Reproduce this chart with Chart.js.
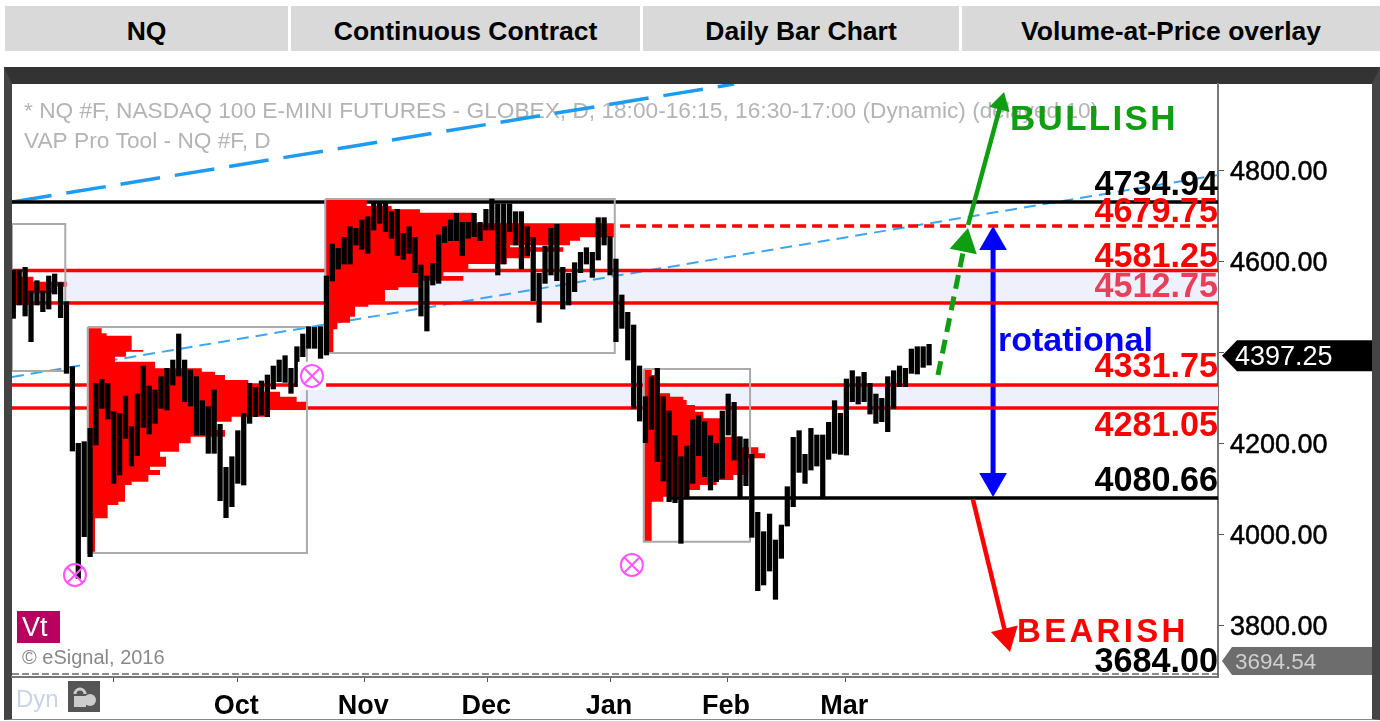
<!DOCTYPE html>
<html><head><meta charset="utf-8">
<script src="https://cdn.jsdelivr.net/npm/chart.js@4/dist/chart.umd.min.js"></script>
<style>
html,body{margin:0;padding:0;background:#fff;width:1380px;height:721px;overflow:hidden}
.cell{position:absolute;top:6px;height:45px;box-sizing:border-box;padding-top:5px;background:#d9d9d9;color:#000;font:bold 26.5px "Liberation Sans",Arial,sans-serif;display:flex;align-items:center;justify-content:center}
#frame{position:absolute;left:4px;top:67px;width:1376px;height:653px;border-top:17px solid #333;border-left:8px solid #444;border-right:8px solid #444;border-bottom:1px solid #888;box-sizing:border-box}
canvas{position:absolute;left:0;top:0}
</style></head><body>
<div class="cell" style="left:5px;width:283px">NQ</div>
<div class="cell" style="left:291px;width:349px">Continuous Contract</div>
<div class="cell" style="left:643px;width:316px">Daily Bar Chart</div>
<div class="cell" style="left:962px;width:418px">Volume-at-Price overlay</div>
<div id="frame"></div>
<canvas id="c" width="1380" height="721"></canvas>
<script>
const barHighs=[4582.4,4582.4,4588.2,4536.2,4558.9,4536.2,4569.2,4573.6,4554.5,4512.7,4369.9,4201.4,4205,4234.3,4333.2,4342,4333.2,4271,4267.3,4305.4,4238,4309.8,4371.3,4327.4,4318.6,4347.9,4366.2,4384.5,4441.7,4384.5,4362.5,4347.9,4295.1,4281.9,4318.6,4243.1,4148.6,4172,4229.2,4267.3,4333.2,4324.4,4338.4,4351.6,4371.3,4384.5,4394,4366.2,4413.8,4441.7,4457.8,4456.3,4457.8,4569.2,
4639.5,4630,4654.2,4677.6,4673.9,4692.3,4699.6,4728.9,4728.9,4728.9,4710.6,4715.7,4663,4677.6,4654.2,4593.3,4569.2,4597,4659.3,4677.6,4692.3,4706.9,4687.1,4687.1,4706.9,4687.1,4715.7,4738.4,4727.4,4727.4,4727.4,4710.6,4710.6,4677.6,4654.2,4575,4635.1,4673.9,4682.7,4588.2,4575,4598.5,4621.2,4631.4,4621.2,4697.4,4697.4,4655.6,4606.5,4527.4,4489.3,4461.5,
4371.4,4303.9,4347.9,4366.2,4303.9,4272.4,4218.2,4172,4195.5,4252.7,4262.2,4249,4218.2,4201.4,4272.4,4309.8,4291.5,4216,4210.9,4177.2,4049.7,4007.2,4046,3988.9,4021.8,4106.1,4214.5,4229.2,4177.2,4234.3,4219.7,4219.7,4247.5,4295.2,4267.3,4342.8,4361.1,4347.9,4357.4,4333.2,4309.8,4300.3,4347.9,4361.1,4371.4,4366.2,4408.7,4413.8,4413.8,4419];
const barLows=[4476.1,4505.4,4481.2,4424.8,4505.4,4490.8,4496.6,4529.6,4477.6,4355.2,4184.5,3904.6,3996.2,3952.2,4197.7,4278.3,4254.8,4113.4,4131.8,4212.4,4151.5,4174.2,4236.5,4221.9,4245.3,4278.3,4274.6,4329.6,4349.4,4292.9,4283.4,4219.7,4219.7,4179.4,4179.4,4075.3,4038,4062.1,4113.4,4109.8,4245.3,4260,4263.6,4260,4320.8,4336.9,4335.4,4311.3,4325.9,4391.9,4410.2,4410.2,4388.2,4395.5,
4558.2,4584.6,4595.5,4595.5,4637.3,4627.8,4619,4670.3,4685,4666.6,4652,4613.9,4605.8,4619,4576.5,4481.2,4448.3,4549.4,4553,4642.4,4646.8,4646.8,4613.9,4652,4655.6,4646.8,4670.3,4670.3,4571.4,4595.5,4666.6,4637.3,4584.6,4613.9,4514.9,4467.3,4553,4571.4,4558.9,4496.6,4505.4,4534.7,4576.5,4595.5,4566.2,4604.3,4637.3,4571.4,4424.8,4454.1,4384.5,4278.3,
4250.4,4202.8,4232.1,4161.1,4118.6,4073.1,4071,3981.6,4084.1,4113.4,4174.2,4128.1,4098.8,4117.1,4124.4,4219.7,4164.7,4082.7,4108.3,3994.8,3877.5,3890,3920.7,3858.5,3948.6,4019.6,4062.1,4137.6,4113.4,4142.7,4151.5,4082.7,4166.2,4179.4,4177.2,4175.7,4292.9,4287.8,4292.9,4265.8,4245.3,4249,4227,4278.3,4325.9,4325.9,4355.2,4353.8,4368.4,4373.5];

const yMin=3687.8, yMax=4991.2, xMin=0.78, xMax=204.9;
const yTickValues=[3800,4000,4200,4400,4600,4800];
const monthPositions=[17.9,38.9,60.4,81.2,102,121.8,141.8];
const monthLabels=['','Oct','Nov','Dec','Jan','Feb','Mar'];

const levelValues=[4732,4679.1,4581.5,4510,4329.6,4279.1,4081.3,3694.54];
const levelTexts=['4734.94','4679.75','4581.25','4512.75','4331.75','4281.05','4080.66','3684.00'];
const levelStarts=[xMin,101,xMin,xMin,xMin,xMin,112,xMin];
const levelColors=['#000','#ff0000','#ff0000','#ff0000','#ff0000','#ff0000','#000','#666'];
const levelTextColors=['#000','#ff0000','#ff0000','#e8405a','#ff0000','#ff0000','#000','#000'];
const levelTextOffsets=[-16,-13,-13,-15,-17,19,-16,-11];
const bandTops=[4581.5,4329.6], bandBottoms=[4510,4279.1], bandStarts=[9.75,49.5];

const profile0Edges=[4582.4,4567.7,4556.7,4545.7,4531.1,4505.4];
const profile0Rights=[2.14,4.39,10.03,8.34,3.83];
const profile1Edges=[4454.1,4443.1,4438,4406.5,4402.8,4391.9,4380.9,4366.2,4358.9,4351.6,4340.6,4329.6,4314.9,4303.9,4292.9,4274.6,4259.9,4249,4230.7,4216,4201.4,4183,4172,4150,4142.7,4131.7,4117.1,4109.8,4073.1,4065.8,4036.5,3963.2];
const profile1Rights=[15.96,16.8,21.04,23,20.08,18.2,24.99,32.9,35.14,36.83,40.78,42.76,46.14,48.96,50.66,44.45,37.96,34.86,36.83,31.02,29.05,25.83,26.85,24.14,25.83,23.86,21.04,19.91,18.78,16.97,14.83];
const profile2Edges=[4736.2,4723,4715.7,4708.4,4685,4654.2,4646.8,4636.6,4632.2,4622.7,4608,4595.5,4583.8,4569.2,4558.9,4544.2,4538.4,4512.7,4501.8,4479.8,4466.6,4451.9,4399.2];
const profile2Rights=[60.81,65.04,69.84,78.87,102.84,96.92,95.23,85.07,94.1,88.46,84.51,78.02,73.79,77.17,69.84,66.17,63.91,61.09,58.84,57.99,55.85,55.17];
const profile3Edges=[4362.6,4351.6,4311.3,4303.9,4296.6,4285.6,4271,4256.3,4227,4216,4192.6,4179.4,4168.4,4131.8,4120.8,4109.8,4098.8,4084.1,4073.1,3985.2];
const profile3Rights=[109.05,110.18,112.15,114.41,114.97,116.38,117.8,120.62,121.18,124,127.1,128.23,125.41,122.87,120.05,117.23,115.26,111.02,109.05];
const profileLefts=[xMin,13.7,53.76,107.81];

const boxLefts=[xMin,13.6,53.8,107.7], boxRights=[9.8,50.7,102.8,125.7];
const boxTops=[4683.5,4457.1,4738.5,4364.8], boxBottoms=[4360.4,3960.4,4400,3985];

const markerX=[11.44,51.55,105.7], markerY=[3912,4349.4,3934];

const steepTrendX=[xMin,123], steepTrendY=[4732,4991];
const slowTrendX=[xMin,xMax], slowTrendY=[4347.2,4791.2];

const blueArrowX=[166.83,166.83], blueArrowY=[4644,4118.6];
const dashArrowX=[157.5,162.05], dashArrowY=[4351.6,4640.2];
const upArrowX=[162.6,168.17], upArrowY=[4681.3,4948.1];
const downArrowX=[163.4,169.06], downArrowY=[4079,3777];

const lastPrice=4397.25, projectedPrice=3694.54;

const pts=(xs,ys)=>xs.map((x,i)=>({x,y:ys[i]}));
function polygon(left,edges,rights){
  const p=[{x:left,y:edges[0]}];
  rights.forEach((r,i)=>{p.push({x:r,y:edges[i]});p.push({x:r,y:edges[i+1]});});
  p.push({x:left,y:edges[edges.length-1]});
  return p;
}
const line=(data,color,width,order,extra)=>Object.assign({type:'line',data,borderColor:color,borderWidth:width,pointRadius:0,tension:0,fill:false,order},extra||{});
const arrow=(xs,ys,color,width,order,radii,rots,extra)=>line(pts(xs,ys),color,width,order,Object.assign({
  pointStyle:'triangle',pointRadius:radii,pointRotation:rots,pointBackgroundColor:color,pointBorderColor:color,pointBorderWidth:0},extra||{}));

const datasets=[];
bandTops.forEach((t,i)=>datasets.push(line([{x:bandStarts[i],y:t},{x:xMax,y:t}],'rgba(0,0,0,0)',0,100,
  {backgroundColor:'#eef0fb',fill:{target:{value:bandBottoms[i]}}})));
datasets.push(line(pts(steepTrendX,steepTrendY),'#1e9bee',3.5,95,{borderDash:[40,15]}));
datasets.push(line(pts(slowTrendX,slowTrendY),'#3fa5f0',2,95,{borderDash:[12,7]}));
datasets.push(arrow(blueArrowX,blueArrowY,'#0000ff',5,90,[16,16],[0,180]));
levelValues.forEach((v,i)=>{
  const extra=i===1?{borderDash:[10,6]}:(i===7?{borderDash:[7,3]}:{});
  datasets.push(line([{x:levelStarts[i],y:v},{x:xMax,y:v}],levelColors[i],i===7?1.5:3.5,80,extra));
});
[[profile0Edges,profile0Rights],[profile1Edges,profile1Rights],[profile2Edges,profile2Rights],[profile3Edges,profile3Rights]].forEach((p,i)=>{
  datasets.push(line(polygon(profileLefts[i],p[0],p[1]),'rgba(0,0,0,0)',0,70,{backgroundColor:'#ff0000',fill:'shape'}));
});
boxLefts.forEach((l,i)=>{
  datasets.push(line([{x:l,y:boxTops[i]},{x:boxRights[i],y:boxTops[i]},{x:boxRights[i],y:boxBottoms[i]},{x:l,y:boxBottoms[i]},{x:l,y:boxTops[i]}],'#aaaaaa',2,60));
});
datasets.push(arrow(dashArrowX,dashArrowY,'#0f9d12',5,50,[0,16],[0,11.5],{borderDash:[14,8]}));
datasets.push(arrow(upArrowX,upArrowY,'#0f9d12',4.5,50,[0,12],[0,15.1]));
datasets.push(arrow(downArrowX,downArrowY,'#ff0000',4.5,50,[0,16],[0,166.4]));
datasets.push({type:'bar',data:barHighs.map((h,i)=>({x:i+1,y:[barLows[i],h]})),backgroundColor:'#000',barThickness:4.6,borderWidth:0,borderSkipped:false,grouped:false,order:20});
datasets.push({type:'line',data:[{x:markerX[1],y:markerY[1]}],showLine:false,pointStyle:'rect',pointRadius:20,pointBackgroundColor:'#fff',pointBorderWidth:0,order:8});
datasets.push({type:'line',data:pts(markerX,markerY),showLine:false,pointStyle:'circle',pointRadius:11,pointBackgroundColor:'rgba(0,0,0,0)',pointBorderColor:'#ff55ff',pointBorderWidth:2,order:7});
datasets.push({type:'line',data:pts(markerX,markerY),showLine:false,pointStyle:'crossRot',pointRadius:11,pointBorderColor:'#ff55ff',pointBorderWidth:2,order:6});

const FONT='"Liberation Sans",Arial,sans-serif';
function text(ctx,s,x,y,font,color,align,spacing){
  ctx.font=font;ctx.fillStyle=color;ctx.textAlign=align||'left';ctx.textBaseline='middle';
  ctx.letterSpacing=spacing||'0px';ctx.fillText(s,x,y);ctx.letterSpacing='0px';
}
const underlay={id:'underlay',beforeDatasetsDraw(c){
  const ctx=c.ctx;ctx.save();
  text(ctx,'* NQ #F, NASDAQ 100 E-MINI FUTURES - GLOBEX, D, 18:00-16:15, 16:30-17:00 (Dynamic) (delayed 10)',24,112,'22.7px '+FONT,'#b4b4b4');
  text(ctx,'VAP Pro Tool - NQ #F, D',24,142,'22.7px '+FONT,'#b4b4b4');
  ctx.restore();
}};
function tag(ctx,y,h,corner,color,s,font,txt){
  ctx.fillStyle=color;ctx.beginPath();ctx.moveTo(1222,y);ctx.lineTo(corner,y-h/2);ctx.lineTo(1372,y-h/2);ctx.lineTo(1372,y+h/2);ctx.lineTo(corner,y+h/2);ctx.closePath();ctx.fill();
  text(ctx,s,1235,y+2,font,txt);
}
const overlay={id:'overlay',afterDatasetsDraw(c){
  const ctx=c.ctx,ys=c.scales.y;ctx.save();
  levelValues.forEach((v,i)=>text(ctx,levelTexts[i],1218,ys.getPixelForValue(v)+levelTextOffsets[i],'bold 34.2px '+FONT,levelTextColors[i],'right'));
  text(ctx,'BULLISH',1010,120,'bold 35px '+FONT,'#0f9d12','left','2.3px');
  text(ctx,'BEARISH',1017,633,'bold 33px '+FONT,'#ff0000','left','3.3px');
  text(ctx,'rotational',998,342,'bold 34px '+FONT,'#0000ff');
  ctx.fillStyle='#b8005f';ctx.fillRect(17,611,43,32);
  text(ctx,'Vt',22,629,'27px '+FONT,'#fff');
  text(ctx,'© eSignal, 2016',22,658,'20px '+FONT,'#888');
  ctx.restore();
},afterDraw(c){
  const ctx=c.ctx,ys=c.scales.y;ctx.save();
  tag(ctx,ys.getPixelForValue(lastPrice)+1.5,31,1237,'#000','4397.25','27px '+FONT,'#fff');
  tag(ctx,Math.min(ys.getPixelForValue(projectedPrice),661),28,1232,'#6d6d6d','3694.54','22.5px '+FONT,'#cfcfcf');
  text(ctx,'Dyn',16,700,'24px '+FONT,'#c8d4e6');
  ctx.fillStyle='#555';ctx.fillRect(68,681,32,31);
  ctx.strokeStyle='#ccc';ctx.lineWidth=3;ctx.beginPath();ctx.arc(80,694,5,Math.PI,0);ctx.stroke();
  ctx.fillStyle='#ccc';ctx.fillRect(74,696,12,11);
  ctx.beginPath();ctx.arc(90,700,6,0,Math.PI*2);ctx.fill();
  ctx.restore();
}};
new Chart(document.getElementById('c'),{
  type:'bar',
  data:{datasets},
  plugins:[underlay,overlay],
  options:{
    responsive:false,animation:false,devicePixelRatio:1,
    layout:{autoPadding:false,padding:{left:12,top:84,right:0,bottom:0}},
    plugins:{legend:{display:false},tooltip:{enabled:false},title:{display:false}},
    scales:{
      x:{type:'linear',min:xMin,max:xMax,offset:false,position:'bottom',
        afterBuildTicks(s){s.ticks=monthPositions.map(value=>({value}));},
        afterFit(s){s.height=44;s.paddingLeft=0;s.paddingRight=0;},
        grid:{display:true,drawOnChartArea:false,drawTicks:true,tickLength:5,tickColor:'#555',offset:false},
        border:{display:true,color:'#777',width:2},
        ticks:{autoSkip:false,maxRotation:0,padding:8,labelOffset:-1,color:'#000',font:{family:FONT,size:27,weight:'bold'},callback:(v,i)=>monthLabels[i]}},
      y:{type:'linear',min:yMin,max:yMax,position:'right',beginAtZero:false,
        afterBuildTicks(s){s.ticks=yTickValues.map(value=>({value}));},
        afterFit(s){s.width=162;s.paddingTop=0;s.paddingBottom=0;},
        grid:{display:true,drawOnChartArea:false,drawTicks:true,tickLength:6,tickColor:'#555'},
        border:{display:true,color:'#777',width:2},
        ticks:{padding:6,labelOffset:2,color:'#000',textStrokeColor:'#000',textStrokeWidth:0.5,font:{family:FONT,size:27},callback:v=>v.toFixed(2)}}
    }
  }
});
</script>
</body></html>
